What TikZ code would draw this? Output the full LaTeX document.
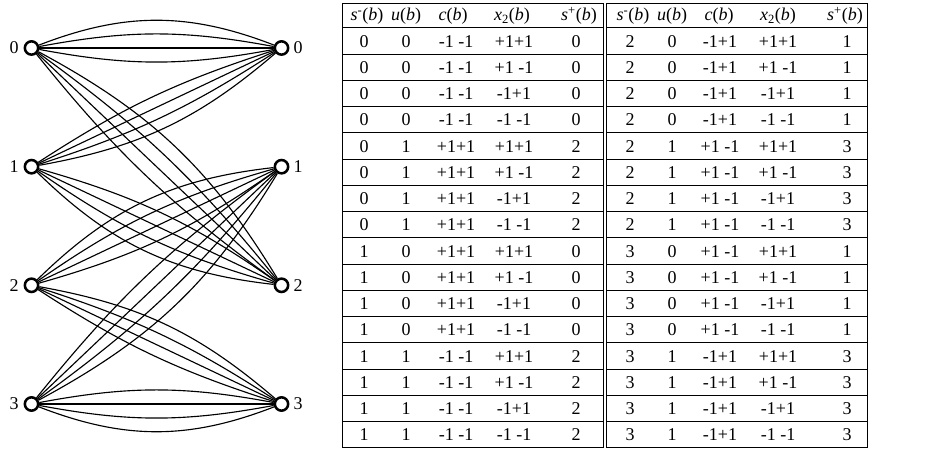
\documentclass[tikz,border=0pt]{standalone}
\usepackage{fontspec}
\setmainfont{Liberation Serif}
\usetikzlibrary{positioning}
\tikzset{
  state/.style={circle,draw,line width=1.9pt,fill=white,minimum size=10pt,inner sep=0pt},
  lbl/.style={inner sep=0pt},
  cell/.style={inner sep=0pt,anchor=base},
  rule/.style={line width=0.75pt}
}
\begin{document}
\begin{tikzpicture}[x=0.75pt,y=0.75pt,font=\fontsize{13.5}{16}\selectfont]
\useasboundingbox (0,0) rectangle (930,452);
% states of the trellis section
\foreach \i/\y in {0/404,1/285.3,2/166.7,3/48}{
  \node[state] (l\i) at (31.5,\y) {};
  \node[state] (r\i) at (281.5,\y) {};
  \node[lbl,left=3.5pt of l\i] (lt\i) {\i};
  \node[lbl,right=3pt of r\i] (rt\i) {\i};
}
% four parallel branches per transition
\foreach \a/\b/\s/\t in {0/0/1/10.6,0/2/1/7.6,1/0/-1/7.6,1/2/-1/9.5,
                         2/1/1/9.5,2/3/1/7.6,3/1/-1/7.6,3/3/-1/10.6}{
  \foreach \k in {-1,0,1,2}{
    \pgfmathsetmacro\bnd{\s*\k*\t}
    \draw[line width=0.85pt] (l\a) to[bend left=\bnd] (r\b);
  }
}
% table rules
\draw[rule] (342,448.5)--(342,4) (603.5,448.5)--(603.5,4)
            (606.5,448.5)--(606.5,4) (867,448.5)--(867,4);
\draw[rule] (342,448.5)--(603.5,448.5) (606.5,448.5)--(867,448.5);
\foreach \j in {0,...,16}{
  \pgfmathsetmacro\yy{424-26.25*\j}
  \draw[rule] (342,\yy)--(603.5,\yy) (606.5,\yy)--(867,\yy);
}
% header
\foreach \o/\p in {0/a,266/b}{
  \node[cell] (\p h1) at (367+\o,431) {\textit{s}\textsuperscript{-}(\textit{b})};
  \node[cell] (\p h2) at (406+\o,431) {\textit{u}(\textit{b})};
  \node[cell] (\p h3) at (453+\o,431) {\textit{c}(\textit{b})};
  \node[cell] (\p h4) at (512+\o,431) {\textit{x}\textsubscript{2}(\textit{b})};
  \node[cell] (\p h5) at (579+\o,431) {\textit{s}\textsuperscript{+}(\textit{b})};
}
% branch labels
\foreach \sa/\ua/\ca/\pa/\sb/\ub/\cb/\pb [count=\g] in
  {0/0/-1 -1/0/2/0/-1+1/1, 0/1/+1+1/2/2/1/+1 -1/3,
   1/0/+1+1/0/3/0/+1 -1/1, 1/1/-1 -1/2/3/1/-1+1/3}{
  \foreach \xv [count=\k] in {+1+1,+1 -1,-1+1,-1 -1}{
    \pgfmathtruncatemacro\r{4*(\g-1)+\k}
    \pgfmathsetmacro\yb{424-26.25*(\r-0.5)-6}
    \node[cell] (a\r-1) at (364,\yb) {\sa};
    \node[cell] (a\r-2) at (406,\yb) {\ua};
    \node[cell] (a\r-3) at (456,\yb) {\ca};
    \node[cell] (a\r-4) at (514,\yb) {\xv};
    \node[cell] (a\r-5) at (576,\yb) {\pa};
    \node[cell] (b\r-1) at (630,\yb) {\sb};
    \node[cell] (b\r-2) at (672,\yb) {\ub};
    \node[cell] (b\r-3) at (720,\yb) {\cb};
    \node[cell] (b\r-4) at (778,\yb) {\xv};
    \node[cell] (b\r-5) at (847,\yb) {\pb};
  }
}
\end{tikzpicture}
\end{document}
